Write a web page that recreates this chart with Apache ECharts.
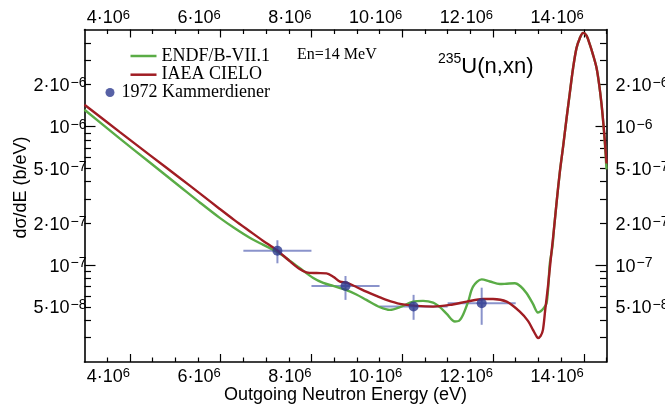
<!DOCTYPE html>
<html><head><meta charset="utf-8">
<script src="https://cdn.jsdelivr.net/npm/echarts@6/dist/echarts.min.js"></script>
<style>html,body{margin:0;padding:0;background:#fff}#c{width:665px;height:404px}</style>
</head><body><div id="c"></div>
<script>
// ---- data (energies in eV, cross sections in b/eV) ----
const endfEnergy = [3.0e6,3.78e6,4.44e6,5.10e6,5.54e6,5.98e6,6.31e6,6.64e6,6.93e6,7.24e6,7.52e6,7.74e6,8.04e6,8.26e6,8.48e6,8.77e6,8.99e6,9.21e6,9.51e6,9.73e6,9.95e6,10.24e6,10.46e6,10.68e6,10.83e6,10.98e6,11.16e6,11.25e6,11.34e6,11.45e6,11.56e6,11.75e6,11.93e6,12.15e6,12.30e6,12.48e6,12.61e6,12.74e6,12.88e6,12.99e6,13.05e6,13.12e6,13.18e6,13.22e6,13.25e6,13.31e6,13.34e6,13.405e6,13.471e6,13.544e6,13.619e6,13.692e6,13.764e6,13.839e6,13.912e6,13.985e6,14.06e6,14.132e6,14.205e6,14.28e6,14.337e6,14.39e6,14.43e6,14.463e6,14.5e6];
const endfValue = [1.318e-6,8.16e-7,5.49e-7,3.69e-7,2.83e-7,2.19e-7,1.843e-7,1.575e-7,1.403e-7,1.246e-7,1.077e-7,9.52e-8,8.06e-8,7.43e-8,7.07e-8,6.61e-8,6.14e-8,5.61e-8,4.97e-8,4.75e-8,4.97e-8,5.45e-8,5.52e-8,5.36e-8,4.97e-8,4.45e-8,3.92e-8,3.96e-8,4.38e-8,5.42e-8,6.98e-8,7.89e-8,7.61e-8,7.30e-8,7.34e-8,7.39e-8,7.01e-8,6.26e-8,5.25e-8,4.55e-8,4.64e-8,4.91e-8,5.31e-8,7.19e-8,1.017e-7,1.369e-7,1.78e-7,2.93e-7,4.66e-7,7.15e-7,1.136e-6,1.746e-6,2.64e-6,3.67e-6,4.33e-6,4.73e-6,4.52e-6,3.90e-6,3.27e-6,2.65e-6,2.02e-6,1.45e-6,1.05e-6,7.6e-7,4.9e-7];
const cieloEnergy = [3.0e6,3.78e6,4.44e6,5.10e6,5.54e6,5.98e6,6.31e6,6.64e6,6.93e6,7.24e6,7.52e6,7.74e6,7.89e6,8.11e6,8.33e6,8.48e6,8.63e6,8.77e6,8.99e6,9.21e6,9.43e6,9.65e6,9.95e6,10.32e6,10.68e6,11.05e6,11.42e6,11.78e6,12.00e6,12.30e6,12.59e6,12.77e6,12.88e6,12.965e6,12.99e6,13.05e6,13.10e6,13.15e6,13.21e6,13.27e6,13.34e6,13.405e6,13.471e6,13.544e6,13.619e6,13.692e6,13.764e6,13.839e6,13.912e6,13.985e6,14.06e6,14.132e6,14.205e6,14.28e6,14.337e6,14.39e6,14.43e6,14.463e6,14.5e6];
const cieloValue = [1.432e-6,9.09e-7,6.21e-7,4.25e-7,3.29e-7,2.54e-7,2.10e-7,1.754e-7,1.50e-7,1.28e-7,1.068e-7,9.36e-8,8.86e-8,8.76e-8,8.72e-8,8.24e-8,7.59e-8,7.46e-8,6.95e-8,6.43e-8,5.99e-8,5.61e-8,5.25e-8,5.08e-8,5.02e-8,5.16e-8,5.45e-8,5.70e-8,5.70e-8,5.45e-8,4.62e-8,3.96e-8,3.41e-8,3.04e-8,2.98e-8,3.09e-8,3.41e-8,4.75e-8,6.98e-8,1.086e-7,1.783e-7,2.93e-7,4.66e-7,7.15e-7,1.136e-6,1.746e-6,2.64e-6,3.67e-6,4.33e-6,4.73e-6,4.52e-6,3.90e-6,3.27e-6,2.65e-6,2.02e-6,1.456e-6,1.063e-6,7.89e-7,5.40e-7];
const expEnergy = [7.25e6, 8.75e6, 10.25e6, 11.75e6];
const expValue = [1.27e-7, 7.06e-8, 5.02e-8, 5.31e-8];
const expEnergyLow = [6.5e6, 8.0e6, 9.5e6, 11.0e6];
const expEnergyHigh = [8.0e6, 9.5e6, 11.0e6, 12.5e6];
const expValueLow = [1.03e-7, 5.61e-8, 4.03e-8, 3.71e-8];
const expValueHigh = [1.51e-7, 8.34e-8, 6.10e-8, 6.87e-8];

const xTickLabels = [4e6, 6e6, 8e6, 10e6, 12e6, 14e6];
const xMinorTicks = [3.5e6,4.5e6,5e6,5.5e6,6.5e6,7e6,7.5e6,8.5e6,9e6,9.5e6,10.5e6,11e6,11.5e6,12.5e6,13e6,13.5e6,14.5e6];
const yTickLabels = [5e-8, 1e-7, 2e-7, 5e-7, 1e-6, 2e-6];
const yDecadeTicks = [1e-7, 1e-6];
const yMinorTicks = [3e-8,4e-8,5e-8,6e-8,7e-8,8e-8,9e-8,2e-7,3e-7,4e-7,5e-7,6e-7,7e-7,8e-7,9e-7,2e-6,3e-6,4e-6];
const X_MIN = 3e6, X_MAX = 14.5e6, Y_MIN = 2e-8, Y_MAX = 5e-6;

// ---- chart ----
const lg = Math.log10;
const SANS = '"Liberation Sans", Arial, sans-serif';
const SERIF = '"Liberation Serif", "Times New Roman", serif';
const BLACK = '#000';
const richX = {
  a: {fontFamily: SANS, fontSize: 18, color: BLACK, lineHeight: 20},
  s: {fontFamily: SANS, fontSize: 13, color: BLACK, lineHeight: 12, verticalAlign: 'top'}
};
const richY = {
  a: {fontFamily: SANS, fontSize: 18, color: BLACK, lineHeight: 20},
  s: {fontFamily: SANS, fontSize: 14, color: BLACK, lineHeight: 12, verticalAlign: 'top', padding: [0, 0, 0, 1]}
};
function xFmt(v) { return '{a|' + Math.round(v / 1e6) + '·10}{s|6}'; }
function yFmt(v) {
  const e = Math.floor(v + 1e-9);
  const m = Math.round(Math.pow(10, v - e));
  return (m === 1 ? '{a|10}' : '{a|' + m + '·10}') + '{s|−' + Math.abs(e) + '}';
}
function xAxisDef(pos, major) {
  return {
    type: 'value', position: pos, min: X_MIN, max: X_MAX,
    axisLine: {show: major, onZero: false, lineStyle: {color: BLACK, width: 1.6}},
    axisTick: {show: true, inside: true, length: major ? 8 : 4.5,
      customValues: major ? xTickLabels : xMinorTicks, lineStyle: {color: BLACK, width: 1.2}},
    axisLabel: {show: major, customValues: xTickLabels, formatter: xFmt, rich: richX,
      align: 'right', margin: pos === 'top' ? 1 : 5},
    splitLine: {show: false}
  };
}
function yAxisDef(pos, major) {
  return {
    type: 'value', position: pos, min: lg(Y_MIN), max: lg(Y_MAX),
    axisLine: {show: major, onZero: false, lineStyle: {color: BLACK, width: 1.6}},
    axisTick: {show: true, inside: true, length: major ? 11 : 6.5,
      customValues: (major ? yDecadeTicks : yMinorTicks).map(lg), lineStyle: {color: BLACK, width: 1.2}},
    axisLabel: {show: major, customValues: yTickLabels.map(lg), formatter: yFmt, rich: richY,
      margin: pos === 'left' ? -2 : 9, padding: [3, 0, 0, 0]},
    splitLine: {show: false}
  };
}

const zip = (xs, ys) => xs.map((x, i) => [x, lg(ys[i])]);
const errData = expEnergy.map((e, i) => [e, lg(expValue[i]), expEnergyLow[i], expEnergyHigh[i], lg(expValueLow[i]), lg(expValueHigh[i])]);

const option = {
  animation: false,
  backgroundColor: '#fff',
  grid: {left: 84.5, top: 29.5, width: 522, height: 332.5, containLabel: false, outerBoundsMode: 'none'},
  xAxis: [xAxisDef('bottom', true), xAxisDef('bottom', false), xAxisDef('top', true), xAxisDef('top', false)],
  yAxis: [yAxisDef('left', true), yAxisDef('left', false), yAxisDef('right', true), yAxisDef('right', false)],
  legend: [
    {data: ['ENDF/B-VII.1', 'IAEA CIELO'], orient: 'vertical', left: 130.5, top: 47,
     icon: 'rect', itemWidth: 26, itemHeight: 2.5, itemGap: 0.7, padding: 0,
     textStyle: {fontFamily: SERIF, fontSize: 18, color: BLACK, lineHeight: 16}},
    {data: ['1972 Kammerdiener'], orient: 'vertical', left: 105.5, top: 83.5,
     icon: 'circle', itemWidth: 9, itemHeight: 9, padding: 0,
     textStyle: {fontFamily: SERIF, fontSize: 18, color: BLACK, lineHeight: 16, padding: [0, 0, 0, 2]}}
  ],
  graphic: [
    {type: 'text', x: 345.5, y: 395.5,
     style: {text: 'Outgoing Neutron Energy (eV)', font: '18px ' + SANS, fill: BLACK, align: 'center', verticalAlign: 'middle', textAlign: 'center', textVerticalAlign: 'middle'}},
    {type: 'text', x: 21, y: 187.5, rotation: Math.PI / 2,
     style: {text: 'dσ/dE (b/eV)', font: '18px ' + SANS, fill: BLACK, align: 'center', verticalAlign: 'middle', textAlign: 'center', textVerticalAlign: 'middle'}},
    {type: 'text', x: 297, y: 55,
     style: {text: 'En=14 MeV', font: '16px ' + SERIF, fill: BLACK, align: 'left', verticalAlign: 'middle', textAlign: 'left', textVerticalAlign: 'middle'}},
    {type: 'text', x: 438, y: 66.5,
     style: {text: '{p|235}{m|U(n,xn)}', align: 'left', verticalAlign: 'middle', textAlign: 'left', textVerticalAlign: 'middle',
       rich: {p: {fontFamily: SANS, fontSize: 14, lineHeight: 14, verticalAlign: 'top', fill: BLACK, color: BLACK},
              m: {fontFamily: SANS, fontSize: 22, lineHeight: 28, fill: BLACK, color: BLACK}}}}
  ],
  series: [
    {type: 'custom', name: 'errors', xAxisIndex: 0, yAxisIndex: 0, z: 1,
     data: errData, encode: {x: 0, y: 1},
     renderItem: function (params, api) {
       const x = api.value(0), y = api.value(1);
       const l = api.coord([api.value(2), y]), r = api.coord([api.value(3), y]);
       const b = api.coord([x, api.value(4)]), t = api.coord([x, api.value(5)]);
       const st = {stroke: '#8a93cb', lineWidth: 2};
       return {type: 'group', children: [
         {type: 'line', shape: {x1: l[0], y1: l[1], x2: r[0], y2: r[1]}, style: st},
         {type: 'line', shape: {x1: b[0], y1: b[1], x2: t[0], y2: t[1]}, style: st}
       ]};
     }},
    {type: 'line', name: 'ENDF/B-VII.1', xAxisIndex: 0, yAxisIndex: 0, z: 2,
     data: zip(endfEnergy, endfValue), symbol: 'none', smooth: 0.3,
     lineStyle: {color: '#5aac46', width: 2.4}, itemStyle: {color: '#5aac46'}},
    {type: 'line', name: 'IAEA CIELO', xAxisIndex: 0, yAxisIndex: 0, z: 3,
     data: zip(cieloEnergy, cieloValue), symbol: 'none', smooth: 0.3,
     lineStyle: {color: '#a01d23', width: 2.4}, itemStyle: {color: '#a01d23'}},
    {type: 'scatter', name: '1972 Kammerdiener', xAxisIndex: 0, yAxisIndex: 0, z: 4,
     data: zip(expEnergy, expValue), symbol: 'circle', symbolSize: 10,
     itemStyle: {color: '#2d3a8e'}}
  ]
};
const chart = echarts.init(document.getElementById('c'), null, {renderer: 'canvas'});
chart.setOption(option);
</script></body></html>
